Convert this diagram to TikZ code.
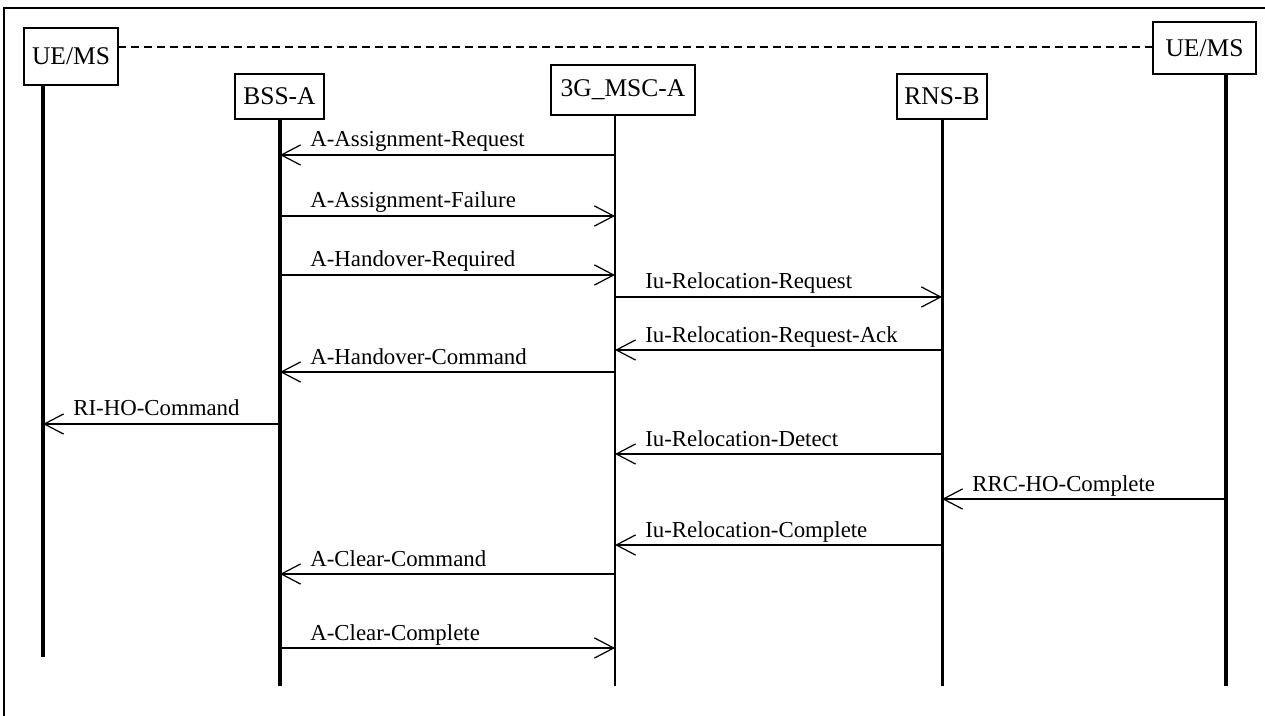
\documentclass[tikz,border=0pt]{standalone}
\usepackage{fontspec}
\setmainfont{Liberation Serif}
\usetikzlibrary{arrows.meta}
\begin{document}
\begin{tikzpicture}[x=0.02cm,y=-0.02cm,
  entity/.style={draw,line width=0.6pt,inner sep=0pt,font=\fontsize{14.5}{16}\selectfont},
  life/.style={line width=2.2pt},
  thinlife/.style={line width=1.7pt},
  msg/.style={line width=0.7pt},
  tor/.style={-{Straight Barb[length=11pt,width=11.5pt,line width=0.7pt]}},
  tol/.style={{Straight Barb[length=11pt,width=11.5pt,line width=0.7pt]}-},
  lbl/.style={anchor=base west,inner sep=0pt,font=\fontsize{13}{15}\selectfont}]
  \useasboundingbox (0,0) rectangle (1265,716);
  \draw[line width=0.6pt] (4,716) -- (4,8) -- (1265,8);

  \node[entity,minimum width=94*0.02cm,minimum height=57*0.02cm] (uea) at (71,56.5) {UE/MS};
  \node[entity,minimum width=89*0.02cm,minimum height=45*0.02cm] (bss) at (279.5,96.5) {BSS-A};
  \node[entity,minimum width=144*0.02cm,minimum height=50*0.02cm] (msc) at (623,90) {3G\_MSC-A};
  \node[entity,minimum width=90*0.02cm,minimum height=45*0.02cm] (rns) at (942,96.5) {RNS-B};
  \node[entity,minimum width=103*0.02cm,minimum height=52*0.02cm] (ueb) at (1204.5,48) {UE/MS};

  \draw[line width=0.6pt,dash pattern=on 4.5pt off 2.8pt] (uea.east |- 0,47) -- (ueb.west |- 0,47);

  % lifelines
  \coordinate (luea) at (43,85);
  \coordinate (lbss) at (280,119);
  \coordinate (lmsc) at (615,115);
  \coordinate (lrns) at (942,119);
  \coordinate (lueb) at (1226,74);
  \draw[life] (luea) -- (luea |- 0,657);
  \draw[life] (lbss) -- (lbss |- 0,686);
  \draw[thinlife] (lmsc) -- (lmsc |- 0,686);
  \draw[thinlife] (lrns) -- (lrns |- 0,686);
  \draw[life] (lueb) -- (lueb |- 0,686);

  % messages: y / left / right / direction / text
  \foreach \y/\a/\b/\dir/\txt in {
    155/lbss/lmsc/tol/A-Assignment-Request,
    216/lbss/lmsc/tor/A-Assignment-Failure,
    275/lbss/lmsc/tor/A-Handover-Required,
    297/lmsc/lrns/tor/Iu-Relocation-Request,
    350/lmsc/lrns/tol/Iu-Relocation-Request-Ack,
    372/lbss/lmsc/tol/A-Handover-Command,
    424/luea/lbss/tol/RI-HO-Command,
    454/lmsc/lrns/tol/Iu-Relocation-Detect,
    499/lrns/lueb/tol/RRC-HO-Complete,
    545/lmsc/lrns/tol/Iu-Relocation-Complete,
    574/lbss/lmsc/tol/A-Clear-Command,
    648/lbss/lmsc/tor/A-Clear-Complete}{
    \draw[msg,\dir] (\a |- 0,\y) -- (\b |- 0,\y);
    \node[lbl] at ([shift={(30,-8)}]\a |- 0,\y) {\txt};
  }
\end{tikzpicture}
\end{document}
